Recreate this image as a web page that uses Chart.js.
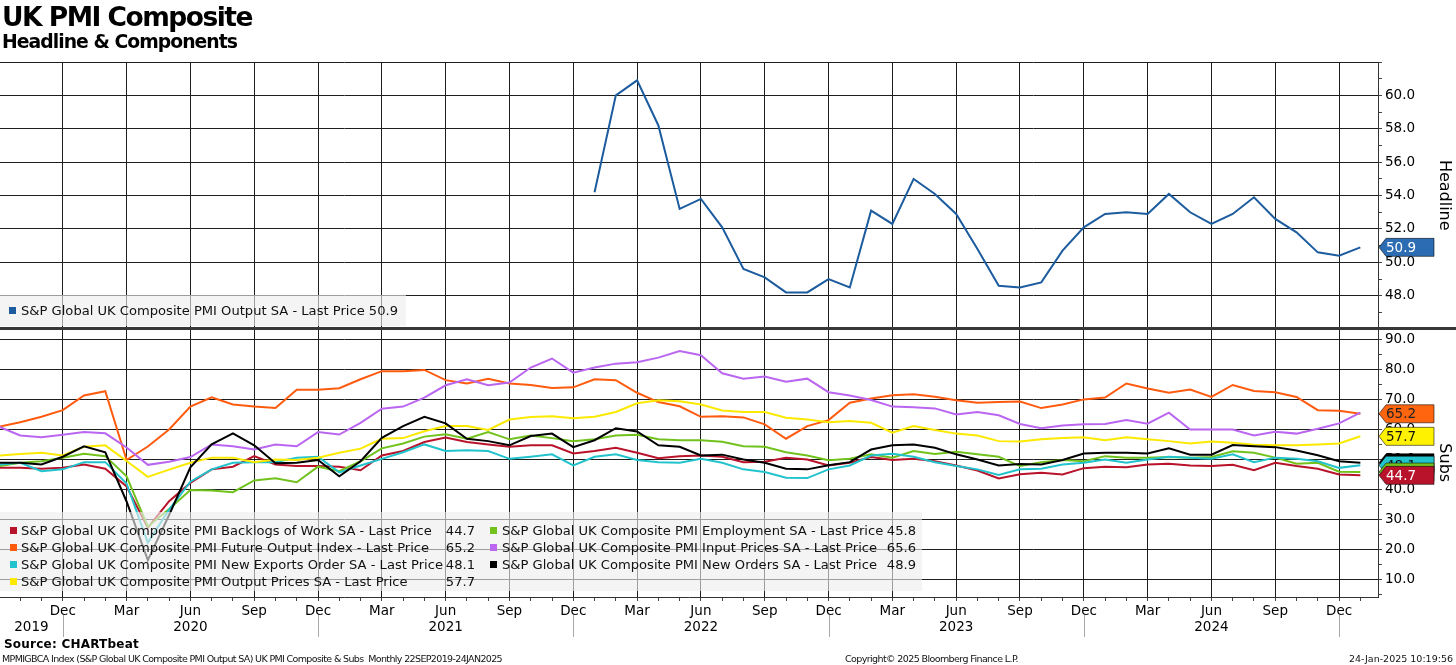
<!DOCTYPE html>
<html>
<head>
<meta charset="utf-8">
<title>UK PMI Composite</title>
<script src="https://cdn.jsdelivr.net/npm/chart.js@4.4.1/dist/chart.umd.min.js"></script>
<style>
  html, body { margin: 0; padding: 0; background: #fff; }
  body { width: 1456px; height: 665px; position: relative; overflow: hidden;
         font-family: "DejaVu Sans", sans-serif; color: #000; }
  #chart { position: absolute; left: 0; top: 0; }
  .txt { position: absolute; white-space: nowrap; line-height: 1; }
  #title { left: 2px; top: 4.2px; font-size: 26.5px; font-weight: bold; }
  #subtitle { left: 2px; top: 33px; font-size: 18.8px; font-weight: bold; }
  #source { left: 4px; top: 637.5px; font-size: 12px; font-weight: bold; }
  .foot { top: 654px; font-size: 9.5px; color: #111; }
  .leg { position: absolute; white-space: nowrap; font-size: 13.1px; line-height: 17px; height: 17px; color: #111; }
  .sw { position: absolute; width: 7px; height: 7px; }
</style>
</head>
<body>
<canvas id="chart" width="1456" height="665"></canvas>
<div id="title" class="txt">UK PMI Composite</div>
<div id="subtitle" class="txt">Headline &amp; Components</div>
<div id="legends"></div>
<div id="source" class="txt">Source: CHARTbeat</div>
<div id="foot1" class="txt foot" style="left:2px">MPMIGBCA Index (S&amp;P Global UK Composite PMI Output SA) UK PMI Composite &amp; Subs&nbsp; Monthly 22SEP2019-24JAN2025</div>
<div id="foot2" class="txt foot" style="left:845px">Copyright© 2025 Bloomberg Finance L.P.</div>
<div id="foot3" class="txt foot" style="right:3px">24-Jan-2025 10:19:56</div>
<script>
// ---- data ----
const months = [
  'Sep 2019', 'Oct 2019', 'Nov 2019', 'Dec 2019',
  'Jan 2020', 'Feb 2020', 'Mar 2020', 'Apr 2020', 'May 2020', 'Jun 2020', 'Jul 2020', 'Aug 2020', 'Sep 2020', 'Oct 2020', 'Nov 2020', 'Dec 2020',
  'Jan 2021', 'Feb 2021', 'Mar 2021', 'Apr 2021', 'May 2021', 'Jun 2021', 'Jul 2021', 'Aug 2021', 'Sep 2021', 'Oct 2021', 'Nov 2021', 'Dec 2021',
  'Jan 2022', 'Feb 2022', 'Mar 2022', 'Apr 2022', 'May 2022', 'Jun 2022', 'Jul 2022', 'Aug 2022', 'Sep 2022', 'Oct 2022', 'Nov 2022', 'Dec 2022',
  'Jan 2023', 'Feb 2023', 'Mar 2023', 'Apr 2023', 'May 2023', 'Jun 2023', 'Jul 2023', 'Aug 2023', 'Sep 2023', 'Oct 2023', 'Nov 2023', 'Dec 2023',
  'Jan 2024', 'Feb 2024', 'Mar 2024', 'Apr 2024', 'May 2024', 'Jun 2024', 'Jul 2024', 'Aug 2024', 'Sep 2024', 'Oct 2024', 'Nov 2024', 'Dec 2024',
  'Jan 2025'
];

// headline composite output, Jan 2022 onwards
const headlineStart = 'Jan 2022';
const headline = [
  54.2, 60.0, 60.9, 58.2, 53.2, 53.8, 52.1, 49.6, 49.1, 48.2, 48.2, 49.0,
  48.5, 53.1, 52.3, 55.0, 54.1, 52.9, 50.8, 48.6, 48.5, 48.8, 50.7, 52.1,
  52.9, 53.0, 52.9, 54.1, 53.0, 52.3, 52.9, 53.9, 52.6, 51.8, 50.6, 50.4,
  50.9
];

// components, Sep 2019 onwards
const backlogs = [
  47.2, 47.2, 46.9, 47.2,
  48.3, 46.9, 41.0, 27.3, 36.1, 42.2, 46.7, 47.6, 51.1, 48.3, 47.8, 47.8,
  47.6, 46.4, 51.3, 52.8, 55.8, 57.3, 55.8, 55.0, 54.2, 54.7, 54.7, 52.0,
  52.8, 53.9, 52.2, 50.4, 51.1, 51.3, 50.9, 49.1, 49.2, 50.6, 50.0, 48.0,
  48.9, 50.8, 49.8, 50.2, 49.4, 48.0, 46.3, 43.7, 45.1, 45.6, 45.0, 47.1,
  47.6, 47.4, 48.3, 48.6, 48.0, 47.8, 48.2, 46.4, 48.9, 47.8, 46.9, 45.0,
  44.7
];
const employment = [
  47.8, 48.9, 49.4, 50.6,
  51.9, 51.1, 44.4, 27.6, 33.5, 39.8, 39.7, 39.1, 43.0, 43.7, 42.4, 47.6,
  46.1, 49.4, 53.7, 55.3, 57.6, 58.4, 56.9, 59.1, 56.7, 58.0, 57.1, 56.1,
  56.7, 58.0, 58.2, 56.7, 56.4, 56.4, 55.9, 54.4, 54.2, 52.4, 51.3, 49.7,
  50.2, 51.7, 50.6, 52.8, 51.8, 52.6, 51.7, 50.9, 47.8, 49.1, 49.8, 49.4,
  51.1, 50.6, 50.6, 50.8, 50.6, 50.8, 52.7, 52.2, 50.6, 48.6, 48.9, 45.9,
  45.8
];
const futureOutput = [
  60.9, 62.4, 64.2, 66.4,
  71.3, 72.7, 49.8, 54.3, 60.0, 67.6, 70.7, 68.3, 67.6, 67.1, 73.2, 73.2,
  73.7, 76.7, 79.4, 79.4, 79.8, 76.4, 75.3, 76.9, 75.3, 74.8, 73.8, 74.0,
  76.7, 76.4, 72.2, 69.1, 67.7, 64.2, 64.4, 64.0, 61.7, 56.9, 61.1, 63.1,
  68.9, 70.3, 71.4, 71.7, 70.9, 69.7, 68.9, 69.1, 69.3, 67.1, 68.3, 70.0,
  70.6, 75.3, 73.6, 72.2, 73.3, 70.8, 74.8, 72.8, 72.4, 70.8, 66.4, 66.2,
  65.2
];
const inputPrices = [
  60.9, 58.0, 57.4, 58.2,
  59.1, 58.7, 54.0, 48.2, 49.2, 50.8, 55.0, 54.4, 53.3, 55.0, 54.4, 59.1,
  58.3, 62.2, 66.9, 67.6, 70.6, 74.7, 76.7, 74.7, 75.6, 80.6, 83.6, 78.9,
  80.6, 81.9, 82.4, 83.9, 86.1, 84.7, 78.7, 76.9, 77.6, 75.9, 76.9, 72.4,
  71.3, 69.8, 67.6, 67.4, 67.0, 65.0, 65.8, 64.7, 61.8, 60.4, 61.3, 61.7,
  61.8, 63.1, 61.9, 65.6, 60.0, 60.0, 60.0, 58.0, 59.2, 58.6, 60.2, 62.0,
  65.6
];
const newExports = [
  48.3, 48.9, 46.1, 46.7,
  49.1, 49.1, 42.0, 22.3, 33.3, 42.6, 46.7, 48.9, 49.1, 49.1, 50.6, 50.9,
  45.7, 48.0, 50.2, 52.4, 55.0, 52.8, 53.1, 52.8, 50.2, 50.9, 51.7, 48.0,
  50.9, 51.7, 49.8, 49.1, 48.9, 50.2, 48.9, 46.7, 45.8, 43.9, 43.8, 46.7,
  48.0, 51.3, 51.9, 50.9, 49.1, 47.8, 46.7, 44.8, 46.7, 46.9, 48.3, 48.9,
  50.0, 48.9, 50.0, 50.9, 50.6, 50.2, 51.7, 49.1, 50.6, 50.2, 49.4, 47.2,
  48.1
];
const newOrders = [
  48.9, 48.9, 48.3, 50.9,
  54.4, 52.4, 36.0, 16.5, 31.5, 47.4, 55.0, 58.7, 54.7, 48.7, 48.9, 49.8,
  44.4, 49.4, 57.2, 61.1, 64.2, 62.0, 56.9, 56.1, 54.7, 57.8, 58.6, 54.1,
  56.4, 60.4, 59.3, 54.7, 54.2, 51.3, 51.6, 50.0, 48.9, 46.9, 46.7, 48.1,
  49.1, 53.3, 54.7, 55.0, 53.9, 51.7, 50.0, 48.0, 48.5, 48.3, 49.8, 52.0,
  52.2, 52.2, 52.0, 53.7, 51.6, 51.6, 54.8, 54.4, 54.1, 53.0, 51.4, 49.4,
  48.9
];
const outputPrices = [
  51.3, 51.8, 52.2, 51.3,
  54.2, 54.7, 49.5, 44.2, 46.6, 48.9, 50.6, 50.6, 49.1, 50.0, 49.8, 50.6,
  52.2, 53.6, 56.9, 57.1, 59.4, 61.1, 61.1, 59.8, 63.3, 64.1, 64.4, 63.7,
  64.2, 65.8, 68.7, 69.7, 69.4, 68.3, 66.3, 65.8, 65.8, 63.9, 63.3, 62.4,
  62.8, 62.2, 58.9, 61.1, 59.8, 58.6, 58.0, 56.1, 56.0, 56.7, 57.1, 57.4,
  56.4, 57.4, 56.7, 56.1, 55.3, 56.0, 55.6, 54.9, 54.7, 54.7, 55.0, 55.3,
  57.7
];

// axis ticks
const quarterLabels = ['Mar', 'Jun', 'Sep', 'Dec'];
const headlineTicks = [47, 48, 49, 50, 51, 52, 53, 54, 55, 56, 57, 58, 59, 60, 61, 62];
const headlineTickLabels = [48, 50, 52, 54, 56, 58, 60];
const subsTicks = [5, 10, 15, 20, 25, 30, 35, 40, 45, 50, 55, 60, 65, 70, 75, 80, 85, 90];
const subsTickLabels = [10, 20, 30, 40, 50, 60, 70, 80, 90];

// ---- series setup ----
const PREFIX = 'S&P Global UK Composite PMI ';
const series = {
  headline:     { name: 'Output SA',            values: headline,     color: '#1c5c9e', tag: '#2c6cb2', tagText: '#fff', axis: 'yTop', start: headlineStart },
  backlogs:     { name: 'Backlogs of Work SA',  values: backlogs,     color: '#b8132a', tag: '#b8132a', tagText: '#fff', axis: 'yBot' },
  futureOutput: { name: 'Future Output Index',  values: futureOutput, color: '#ff5b0f', tag: '#ff640f', tagText: '#222', axis: 'yBot' },
  newExports:   { name: 'New Exports Order SA', values: newExports,   color: '#22c3cc', tag: '#22c3cc', tagText: '#111', axis: 'yBot' },
  outputPrices: { name: 'Output Prices SA',     values: outputPrices, color: '#fbe900', tag: '#fff200', tagText: '#111', axis: 'yBot' },
  employment:   { name: 'Employment SA',        values: employment,   color: '#72c21e', tag: '#72c21e', tagText: '#111', axis: 'yBot' },
  inputPrices:  { name: 'Input Prices SA',      values: inputPrices,  color: '#ba66f0', tag: '#ba66f0', tagText: '#111', axis: 'yBot' },
  newOrders:    { name: 'New Orders SA',        values: newOrders,    color: '#000000', tag: '#000000', tagText: '#fff', axis: 'yBot' }
};
const drawOrder = ['headline', 'newOrders', 'outputPrices', 'newExports', 'employment', 'inputPrices', 'futureOutput', 'backlogs'];
const tagOrder = ['futureOutput', 'outputPrices', 'newOrders', 'newExports', 'employment', 'backlogs'];

const lastOf = key => series[key].values[series[key].values.length - 1];
const monthAbbr = i => months[i].slice(0, 3);

function toPoints(s) {
  const first = months.indexOf(s.start || months[0]);
  return s.values.map((v, k) => ({ x: first + k, y: v }));
}

const GRID = '#1e1e1e';
const FONT = { family: 'DejaVu Sans', size: 13.5 };
Chart.defaults.font.family = 'DejaVu Sans';
Chart.defaults.color = '#000';

// legend backgrounds, year row, panel divider and last-price tags
const bbgExtras = {
  id: 'bbgExtras',
  afterDatasetsDraw(chart) {
    const ctx = chart.ctx;
    ctx.save();
    ctx.fillStyle = 'rgba(238,238,238,0.62)';
    ctx.fillRect(0, 295, 406, 31);
    ctx.fillRect(0, 512, 922, 79);
    ctx.restore();
  },
  afterDraw(chart) {
    const ctx = chart.ctx;
    const xs = chart.scales.x;
    const area = chart.chartArea;
    const split = chart.scales.yTop.bottom;
    ctx.save();

    // divider between the two panels
    ctx.fillStyle = '#383838';
    ctx.fillRect(0, split - 1.5, chart.width, 3);

    // year row
    ctx.font = '13.5px "DejaVu Sans"';
    ctx.fillStyle = '#000';
    ctx.textAlign = 'center';
    ctx.textBaseline = 'middle';
    const decs = months.map((m, i) => m.startsWith('Dec') ? i : -1).filter(i => i >= 0);
    let left = area.left;
    decs.concat([null]).forEach(i => {
      const right = i === null ? area.right : xs.getPixelForValue(i);
      const year = i === null ? months[months.length - 1].slice(4) : months[i].slice(4);
      if (right - left > 45) ctx.fillText(year, (left + right) / 2, 627);
      if (i !== null) {
        ctx.fillStyle = '#a8a8a8';
        ctx.fillRect(Math.round(right), 615, 1, 22);
        ctx.fillStyle = '#000';
      }
      left = right;
    });

    // last-price tags on the right axis
    const tag = key => {
      const s = series[key];
      const y = chart.scales[s.axis].getPixelForValue(lastOf(key));
      const x0 = area.right + 1, x1 = area.right + 56;
      ctx.beginPath();
      ctx.moveTo(x0, y);
      ctx.lineTo(x0 + 7, y - 9);
      ctx.lineTo(x1, y - 9);
      ctx.lineTo(x1, y + 9);
      ctx.lineTo(x0 + 7, y + 9);
      ctx.closePath();
      ctx.fillStyle = s.tag;
      ctx.fill();
      ctx.strokeStyle = 'rgba(0,0,0,0.55)';
      ctx.lineWidth = 1;
      ctx.stroke();
      ctx.fillStyle = s.tagText;
      ctx.textAlign = 'left';
      ctx.fillText(lastOf(key).toFixed(1), x0 + 7, y + 1);
    };
    tag('headline');
    tagOrder.forEach(tag);
    ctx.restore();
  }
};

new Chart(document.getElementById('chart'), {
  type: 'line',
  data: {
    datasets: drawOrder.map(key => ({
      label: PREFIX + series[key].name,
      data: toPoints(series[key]),
      yAxisID: series[key].axis,
      borderColor: series[key].color,
      borderWidth: 2,
      pointRadius: 0,
      tension: 0
    }))
  },
  options: {
    responsive: false,
    devicePixelRatio: 1,
    animation: false,
    events: [],
    layout: { padding: { top: 62, left: 0, right: 0, bottom: 0 } },
    plugins: { legend: { display: false }, tooltip: { enabled: false } },
    scales: {
      x: {
        type: 'linear',
        min: 0.05,
        max: 64.83,
        z: 1,
        afterBuildTicks: s => { s.ticks = months.map((m, i) => ({ value: i })).filter(t => t.value >= 1); },
        afterFit: s => { s.height = 68; },
        ticks: {
          autoSkip: false, maxRotation: 0, padding: 2, font: FONT, color: '#000',
          callback: v => (v >= 3 && quarterLabels.includes(monthAbbr(v))) ? monthAbbr(v) : ''
        },
        grid: {
          color: c => (c.tick && quarterLabels.includes(monthAbbr(c.tick.value))) ? GRID : 'rgba(0,0,0,0)',
          tickColor: '#444', tickLength: 4
        },
        border: { color: '#333' }
      },
      yTop: {
        type: 'linear', position: 'right', stack: 'panels', stackWeight: 266.5,
        min: 46.04, max: 62, z: 1,
        afterBuildTicks: s => { s.ticks = headlineTicks.map(v => ({ value: v })); },
        afterFit: s => { s.width = 78; },
        ticks: {
          autoSkip: false, padding: 3, font: FONT, color: '#000',
          callback: v => headlineTickLabels.includes(v) ? v.toFixed(1) : ''
        },
        grid: {
          color: c => (c.tick && c.tick.value % 2 === 0) ? GRID : 'rgba(0,0,0,0)',
          tickColor: '#444', tickLength: 4
        },
        border: { color: '#333' },
        title: { display: true, text: 'Headline', font: { size: 16 }, color: '#000', padding: { top: 2, bottom: 5 } }
      },
      yBot: {
        type: 'linear', position: 'right', stack: 'panels', stackWeight: 268.5,
        min: 4.2, max: 93.6, z: 1,
        afterBuildTicks: s => { s.ticks = subsTicks.map(v => ({ value: v })); },
        afterFit: s => { s.width = 78; },
        ticks: {
          autoSkip: false, padding: 3, font: FONT, color: '#000',
          callback: v => subsTickLabels.includes(v) ? v.toFixed(1) : ''
        },
        grid: {
          color: c => (c.tick && subsTickLabels.includes(c.tick.value)) ? GRID : 'rgba(0,0,0,0)',
          tickColor: '#444', tickLength: 4
        },
        border: { color: '#333' },
        title: { display: true, text: 'Subs', font: { size: 16 }, color: '#000', padding: { top: 2, bottom: 5 } }
      }
    }
  },
  plugins: [bbgExtras]
});

// ---- legends (html text over the canvas) ----
const legendBox = document.getElementById('legends');
function addLegend(key, sqX, textX, yc, valueRight, valueText) {
  const s = series[key];
  const sw = document.createElement('div');
  sw.className = 'sw';
  sw.style.cssText = `left:${sqX}px;top:${yc - 3.5}px;background:${s.color}`;
  legendBox.appendChild(sw);
  const t = document.createElement('div');
  t.className = 'leg';
  t.style.cssText = `left:${textX}px;top:${yc - 8.2}px`;
  t.textContent = PREFIX + s.name + ' - Last Price' + (valueRight ? '' : ' ' + valueText);
  legendBox.appendChild(t);
  if (valueRight) {
    const v = document.createElement('div');
    v.className = 'leg';
    v.style.cssText = `right:${1456 - valueRight}px;top:${yc - 8.2}px`;
    v.textContent = valueText;
    legendBox.appendChild(v);
  }
}
addLegend('headline', 9, 21, 310, null, lastOf('headline').toFixed(1));
const rowsY = [530, 547.3, 564.4, 581.6];
['backlogs', 'futureOutput', 'newExports', 'outputPrices']
  .forEach((k, r) => addLegend(k, 10, 21, rowsY[r], 475, lastOf(k).toFixed(1)));
['employment', 'inputPrices', 'newOrders']
  .forEach((k, r) => addLegend(k, 490, 502, rowsY[r], 916, lastOf(k).toFixed(1)));

// squeeze header / footer text to the widths seen in the original
function fitWidth(id, target) {
  const el = document.getElementById(id);
  const w = el.getBoundingClientRect().width;
  el.style.letterSpacing = ((target - w) / el.textContent.length) + 'px';
}
fitWidth('title', 250);
fitWidth('subtitle', 235);
fitWidth('source', 135);
fitWidth('foot1', 500);
fitWidth('foot2', 173);
fitWidth('foot3', 104);
</script>
</body>
</html>
